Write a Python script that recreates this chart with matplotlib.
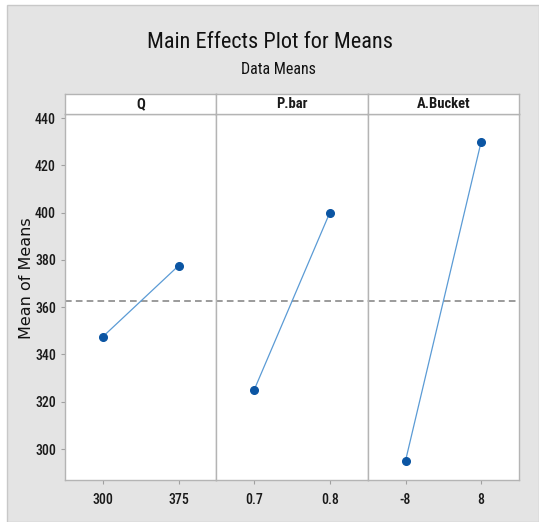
import matplotlib
matplotlib.use("Agg")
import matplotlib.pyplot as plt
from matplotlib.patches import Rectangle

factors = ["Q", "P.bar", "A.Bucket"]
levels = [["300", "375"], ["0.7", "0.8"], ["-8", "8"]]
means = [[347.5, 377.5], [325.0, 400.0], [295.0, 430.0]]
grand_mean = 362.5
yticks = [300, 320, 340, 360, 380, 400, 420, 440]

NARROW = ["Roboto Condensed", "Open Sans Condensed", "DejaVu Sans"]

W, H = 539, 522
fig = plt.figure(figsize=(W / 100, H / 100), dpi=100, facecolor="white")
bg = Rectangle((7 / W, 0), 1 - 7 / W, 1 - 5 / H, transform=fig.transFigure,
               facecolor="#e4e4e4", edgecolor="#c8c8c8", linewidth=1.0, zorder=-10)
fig.patches.append(bg)

left, right = 65 / W, 519 / W
bottom, top = 1 - 480 / H, 1 - 114 / H
strip_top = 1 - 94 / H
pw = (right - left) / 3

fig.text(270 / W, 1 - 42 / H, "Main Effects Plot for Means", ha="center", va="center",
         fontsize=16, family=NARROW, color="#111111")
fig.text(278 / W, 1 - 69 / H, "Data Means", ha="center", va="center",
         fontsize=11.5, family=NARROW, color="#111111")
fig.text(27 / W, 1 - 278 / H, "Mean of Means", rotation=90, ha="center", va="center",
         fontsize=11.5, family=["DejaVu Sans"], color="#111111")

edge = "#b4b4b4"
for i, (fac, lv, mv) in enumerate(zip(factors, levels, means)):
    ax = fig.add_axes([left + i * pw, bottom, pw, top - bottom])
    ax.set_facecolor("white")
    x = list(range(len(lv)))
    ax.plot(x, mv, color="#5b9bd5", linewidth=0.9, zorder=2)
    ax.plot(x, mv, linestyle="none", marker="o", markersize=5.5,
            color="#0b55a3", zorder=3)
    ax.axhline(grand_mean, color="#8a8a8a", linestyle=(0, (4, 2.5)), linewidth=1.2, zorder=1)
    ax.set_xlim(-0.5, 1.5)
    ax.set_ylim(286.9, 441.7)
    ax.set_xticks(x)
    ax.set_xticklabels(lv, family=NARROW, fontsize=10, fontweight="medium", color="#1a1a1a")
    ax.set_yticks(yticks)
    if i == 0:
        ax.set_yticklabels([str(v) for v in yticks], family=NARROW, fontsize=10,
                           fontweight="medium", color="#1a1a1a")
    else:
        ax.tick_params(axis="y", left=False, labelleft=False)
    ax.tick_params(axis="both", color="#a0a0a0", length=3, width=0.8)
    ax.tick_params(axis="x", pad=6)
    for s in ax.spines.values():
        s.set_color(edge)
        s.set_linewidth(1.0)

    sax = fig.add_axes([left + i * pw, top, pw, strip_top - top])
    sax.set_facecolor("white")
    sax.set_xticks([])
    sax.set_yticks([])
    for s in sax.spines.values():
        s.set_color(edge)
        s.set_linewidth(1.0)
    sax.text(0.5, 0.5, fac, ha="center", va="center", transform=sax.transAxes,
             fontsize=10.5, family=NARROW, fontweight="semibold", color="#1a1a1a")

fig.savefig("out.png", dpi=100, facecolor=fig.get_facecolor())
